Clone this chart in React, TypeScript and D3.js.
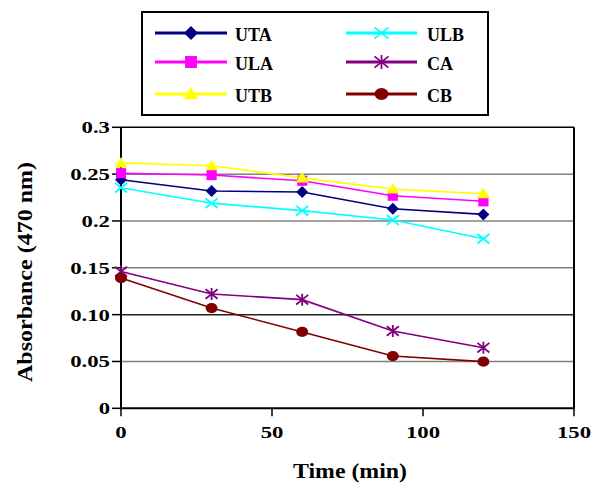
import React from "react";
import * as d3 from "d3";

const times = [0, 30, 60, 90, 120];
const seriesNames = ["UTA", "ULA", "UTB", "ULB", "CA", "CB"];
const UTA = [0.244, 0.232, 0.231, 0.213, 0.207];
const ULA = [0.251, 0.249, 0.243, 0.227, 0.221];
const UTB = [0.262, 0.259, 0.246, 0.234, 0.229];
const ULB = [0.2355, 0.219, 0.211, 0.201, 0.181];
const CA = [0.146, 0.122, 0.116, 0.0825, 0.0647];
const CB = [0.139, 0.107, 0.0815, 0.0558, 0.0498];
const yTicks = [0, 0.05, 0.1, 0.15, 0.2, 0.25, 0.3];
const yTickLabels = ["0", "0.05", "0.10", "0.15", "0.2", "0.25", "0.3"];
const xTicks = [0, 50, 100, 150];
const xTickLabels = ["0", "50", "100", "150"];

const values = [UTA, ULA, UTB, ULB, CA, CB];
const colors = ["#000080", "#FF00FF", "#FFFF00", "#00FFFF", "#800080", "#800000"];
const markerTypes = ["diamond", "square", "triangle", "x", "asterisk", "circle"];

const FONT = "Liberation Serif";

function Marker({ type, cx, cy, color, s }: { type: string; cx: number; cy: number; color: string; s: number }) {
  const h = s / 2;
  switch (type) {
    case "diamond":
      return <path d={`M${cx},${cy - h}L${cx + h},${cy}L${cx},${cy + h}L${cx - h},${cy}Z`} fill={color} />;
    case "square":
      return <rect x={cx - h * 0.85} y={cy - h * 0.85} width={s * 0.85} height={s * 0.85} fill={color} />;
    case "triangle":
      return <path d={`M${cx},${cy - h}L${cx + h * 1.05},${cy + h * 0.75}L${cx - h * 1.05},${cy + h * 0.75}Z`} fill={color} />;
    case "x":
      return (
        <path
          d={`M${cx - h},${cy - h * 0.8}L${cx + h},${cy + h * 0.8}M${cx - h},${cy + h * 0.8}L${cx + h},${cy - h * 0.8}`}
          stroke={color}
          strokeWidth={1.8}
          fill="none"
        />
      );
    case "asterisk":
      return (
        <path
          d={`M${cx - h},${cy - h * 0.8}L${cx + h},${cy + h * 0.8}M${cx - h},${cy + h * 0.8}L${cx + h},${cy - h * 0.8}M${cx},${cy - h}L${cx},${cy + h}`}
          stroke={color}
          strokeWidth={1.8}
          fill="none"
        />
      );
    default:
      return <ellipse cx={cx} cy={cy} rx={h} ry={h * 0.85} fill={color} />;
  }
}

export default function App() {
  const x = d3.scaleLinear().domain([0, 150]).range([121, 574]);
  const y = d3.scaleLinear().domain([0, 0.3]).range([408.3, 127.3]);
  const line = d3
    .line<number>()
    .x((_, i) => x(times[i]))
    .y((d) => y(d));

  const legendRows = [33, 62, 94];
  const legendCols = [
    { x1: 155, x2: 227, tx: 235 },
    { x1: 346, x2: 417, tx: 427 },
  ];

  return (
    <svg
      width={592}
      height={483}
      style={{ position: "absolute", left: 0, top: 0, background: "#fff", fontFamily: FONT, fontWeight: 700 }}
    >
      <rect x={0} y={0} width={592} height={483} fill="#fff" />
      {/* gridlines */}
      {yTicks.slice(1, -1).map((t) => (
        <line
          key={t}
          x1={x(0)}
          x2={x(150)}
          y1={y(t)}
          y2={y(t)}
          stroke={t === 0.1 ? "#222" : "#808080"}
          strokeWidth={1.5}
        />
      ))}
      {/* frame */}
      <line x1={x(0)} x2={x(150)} y1={y(0.3)} y2={y(0.3)} stroke="#000" strokeWidth={1.5} />
      <line x1={x(150)} x2={x(150)} y1={y(0.3)} y2={y(0)} stroke="#000" strokeWidth={2} />
      <line x1={x(0)} x2={x(0)} y1={y(0.3)} y2={y(0) + 1} stroke="#000" strokeWidth={2} />
      <line x1={x(0) - 1} x2={x(150) + 1} y1={y(0)} y2={y(0)} stroke="#000" strokeWidth={2} />
      {/* y ticks */}
      {yTicks.map((t, i) => (
        <g key={t}>
          <line x1={x(0) - 9} x2={x(0)} y1={y(t)} y2={y(t)} stroke="#000" strokeWidth={1.5} />
          <text
            transform={`translate(110,${y(t) + 6}) scale(1.3,1)`}
            textAnchor="end"
            fontSize={17.5}
            fill="#000"
          >
            {yTickLabels[i]}
          </text>
        </g>
      ))}
      {/* x ticks */}
      {xTicks.map((t, i) => (
        <g key={t}>
          <line x1={x(t)} x2={x(t)} y1={y(0)} y2={y(0) + 8} stroke="#000" strokeWidth={1.5} />
          <text transform={`translate(${x(t)},438) scale(1.3,1)`} textAnchor="middle" fontSize={17.5} fill="#000">
            {xTickLabels[i]}
          </text>
        </g>
      ))}
      {/* axis titles */}
      <text x={350} y={478} textAnchor="middle" fontSize={21} textLength={114} lengthAdjust="spacingAndGlyphs">
        Time (min)
      </text>
      <text
        transform={`translate(32,272) rotate(-90)`}
        textAnchor="middle"
        fontSize={21}
        textLength={220}
        lengthAdjust="spacingAndGlyphs"
      >
        Absorbance (470 nm)
      </text>
      {/* series */}
      {values.map((vals, si) => (
        <g key={seriesNames[si]}>
          <path d={line(vals) || ""} fill="none" stroke={colors[si]} strokeWidth={1.6} />
          {vals.map((v, i) => (
            <Marker key={i} type={markerTypes[si]} cx={x(times[i])} cy={y(v)} color={colors[si]} s={12} />
          ))}
        </g>
      ))}
      {/* legend */}
      <rect x={142} y={12} width={346} height={103} fill="#fff" stroke="#000" strokeWidth={2} />
      {seriesNames.map((name, i) => {
        const col = legendCols[Math.floor(i / 3)];
        const ry = legendRows[i % 3];
        return (
          <g key={name}>
            <line x1={col.x1} x2={col.x2} y1={ry} y2={ry} stroke={colors[i]} strokeWidth={3} />
            <Marker type={markerTypes[i]} cx={(col.x1 + col.x2) / 2} cy={ry} color={colors[i]} s={14} />
            <text x={col.tx} y={ry + 8} fontSize={18} fill="#000">
              {name}
            </text>
          </g>
        );
      })}
    </svg>
  );
}
